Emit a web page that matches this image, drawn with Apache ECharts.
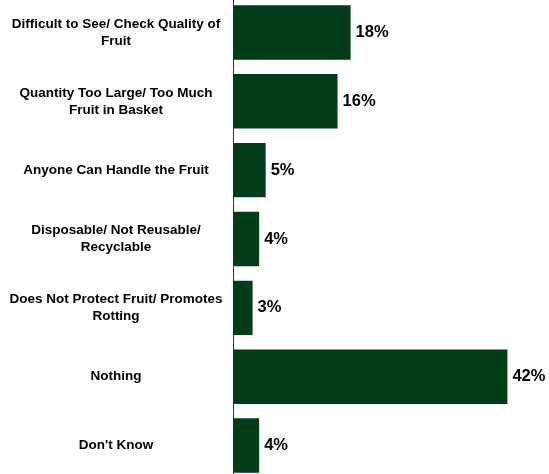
<!DOCTYPE html>
<html>
<head>
<meta charset="utf-8">
<script src="https://cdn.jsdelivr.net/npm/echarts@6/dist/echarts.min.js"></script>
<style>
  html, body { margin: 0; padding: 0; background: #fff; }
  #chart { width: 549px; height: 474px; }
</style>
</head>
<body>
<div id="chart"></div>
<script>
// Reasons for disliking the fruit basket packaging (% of respondents)
const categories = [
  "Difficult to See/ Check Quality of\nFruit",
  "Quantity Too Large/ Too Much\nFruit in Basket",
  "Anyone Can Handle the Fruit",
  "Disposable/ Not Reusable/\nRecyclable",
  "Does Not Protect Fruit/ Promotes\nRotting",
  "Nothing",
  "Don't Know"
];
const values = [18, 16, 5, 4, 3, 42, 4];

const chart = echarts.init(document.getElementById('chart'));
chart.setOption({
  animation: false,
  grid: {
    left: 233, top: -2, width: 294, height: 482,
    containLabel: false, outerBoundsMode: 'none'
  },
  xAxis: {
    type: 'value', min: 0, max: 45, show: false
  },
  yAxis: {
    type: 'category',
    data: categories,
    inverse: true,
    axisTick: { show: false },
    axisLine: { show: true, lineStyle: { color: '#3a3a3a', width: 1 } },
    axisLabel: {
      margin: 9,
      formatter: v => v.split('\n').map(s => '{a|' + s + '}').join('\n'),
      rich: {
        a: {
          width: 216, align: 'center',
          fontFamily: 'Liberation Sans, Arial, sans-serif',
          fontWeight: 'bold', fontSize: 13.5, color: '#000', lineHeight: 17
        }
      }
    }
  },
  series: [{
    type: 'bar',
    data: values,
    barCategoryGap: '21%',
    itemStyle: { color: '#023d17' },
    label: {
      show: true, position: 'right', distance: 5,
      formatter: p => p.value + '%',
      fontFamily: 'Liberation Sans, Arial, sans-serif',
      fontWeight: 'bold', fontSize: 16.5, color: '#000'
    }
  }]
});
</script>
</body>
</html>
